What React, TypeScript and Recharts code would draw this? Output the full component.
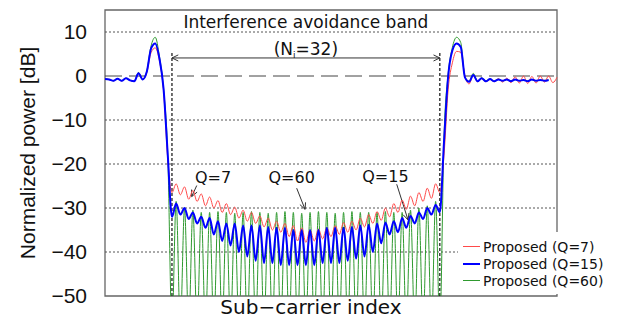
import { LineChart, Line, XAxis, YAxis, ReferenceLine, ReferenceArea, ReferenceDot, Legend } from 'recharts'

// sub-carrier index, interference avoidance band spans 0..32
const subcarrier = [
  -8, -7.5, -7, -6.5, -6, -5.5, -5, -4.5, -4, -3.5, -3, -2.5, -2, -1.5, -1, -0.5,
  0, 0.5, 1, 1.5, 2, 2.5, 3, 3.5, 4, 4.5, 5, 5.5, 6, 6.5, 7, 7.5,
  8, 8.5, 9, 9.5, 10, 10.5, 11, 11.5, 12, 12.5, 13, 13.5, 14, 14.5, 15, 15.5,
  16, 16.5, 17, 17.5, 18, 18.5, 19, 19.5, 20, 20.5, 21, 21.5, 22, 22.5, 23, 23.5,
  24, 24.5, 25, 25.5, 26, 26.5, 27, 27.5, 28, 28.5, 29, 29.5, 30, 30.5, 31, 31.5,
  32, 32.5, 33, 33.5, 34, 34.5, 35, 35.5, 36, 36.5, 37, 37.5, 38, 38.5, 39, 39.5,
  40, 40.5, 41, 41.5, 42, 42.5, 43, 43.5, 44, 44.5, 45, 45.5, 46,
]

// Proposed (Q=7)
const q7 = [
  -0.7, -0.8, -1.1, -0.6, -1.1, -0.5, -1.0, -1.2, 0.6, -0.8, 0.8, 5.3, 6.4, 3.5, -3.5, -19,
  -26.5, -24.5, -27, -25.2, -28, -26, -28.5, -26.8, -29.5, -27.5, -30, -28.3, -31, -29, -31.5, -29.8,
  -32.3, -30.5, -33, -31, -33.5, -31.8, -34.3, -32.3, -35, -33, -35.5, -33.5, -36.5, -34, -37.5, -34.5,
  -37.8, -35, -37.5, -34.8, -37, -34.5, -36.5, -34, -36, -33.3, -35.5, -33, -35, -32.3, -34.3, -31.5,
  -33.5, -30.8, -32.8, -30, -32, -29, -31, -28.2, -30.3, -27.3, -29.5, -26.5, -28.5, -25.5, -27.8, -24.5,
  -26.5, -18, -3, 3, 5.6, 5.4, 0, -1.8, 0.2, -1.3, -0.6, -1.3, -0.8, -1.3, -0.6, -1.4,
  -0.5, -1.5, -0.2, -1.6, 0, -1.7, -0.1, -1.6, 0, -1.4, 0, -1.5, -0.3,
]

// Proposed (Q=15)
const q15 = [
  -0.7, -0.8, -1.1, -0.6, -1.1, -0.5, -1.0, -1.2, 0.6, -0.8, 1.0, 6.2, 7.4, 4.0, -3, -18,
  -32, -29, -31.5, -30, -32.5, -31, -33.5, -32, -34.5, -32.3, -36, -33, -37.5, -33.5, -38.5, -33.5,
  -40, -34, -41, -34, -42, -34, -42.5, -34.3, -42.5, -34.5, -43, -34.5, -43, -35, -43, -35,
  -43, -35, -43, -35, -42.5, -34.5, -42.5, -34.5, -42.5, -34.5, -42, -34.3, -41.5, -34, -41, -33.8,
  -40, -33.5, -38, -33.3, -36, -33, -35.5, -32.3, -34.5, -31.8, -33.5, -31, -32.5, -30, -31.5, -29.3,
  -31, -15, 0, 5.8, 7.4, 6.6, -0.3, -1.3, 0.2, -1.2, -0.5, -1.2, -0.7, -1.2, -0.8, -1.1,
  -0.8, -1.2, -0.8, -1.1, -0.9, -1.2, -0.8, -1.1, -0.9, -1.1, -0.9, null, null,
]

// Proposed (Q=60), nulls fall below the -50 dB floor
const q60 = [
  -0.7, -0.8, -1.1, -0.6, -1.1, -0.5, -1.0, -1.2, 0.8, -0.8, 1.2, 6.8, 8.8, 4.5, -3, -18,
  -57, -28.5, -57, -30, -57, -30.5, -57, -31, -57, -31, -57, -30.8, -57, -31, -57, -31.2,
  -57, -31, -57, -30.8, -57, -31, -57, -31.2, -57, -31, -57, -30.8, -57, -31, -57, -31.2,
  -57, -31, -57, -30.8, -57, -31, -57, -31.2, -57, -31, -57, -30.8, -57, -31, -57, -31,
  -57, -31, -57, -30.8, -57, -31, -57, -31, -57, -30.5, -57, -30, -57, -29.5, -57, -28.5,
  -57, -14, 0.5, 6.5, 8.8, 7.6, -0.2, -1.2, 0.6, -1.2, -0.4, -1.1, -0.7, -1.2, -0.7, -1.1,
  -0.8, -1.1, -0.8, -1.1, -0.9, -1.1, -0.8, -1.1, -0.9, -1.0, -0.9, null, null,
]

const seriesNames = ['Proposed (Q=7)', 'Proposed (Q=15)', 'Proposed (Q=60)']
const yTicks = [-50, -40, -30, -20, -10, 0, 10]
const gridLevels = [10, -10, -20, -30, -40]
const bandEdges = [0, 32]

const data = subcarrier.map((x, i) => ({ x, q7: q7[i], q15: q15[i], q60: q60[i] }))

const COLORS = { q7: '#ff4a4a', q15: '#0000ff', q60: '#2f9a2f' }
const legendRows = [
  { name: seriesNames[0], color: COLORS.q7, width: 1 },
  { name: seriesNames[1], color: COLORS.q15, width: 2 },
  { name: seriesNames[2], color: COLORS.q60, width: 1 },
]

const head = (x: number, y: number, fx: number, fy: number, len: number) => {
  const a = Math.atan2(y - fy, x - fx)
  const s = 0.45
  const p1 = `${x - len * Math.cos(a - s)},${y - len * Math.sin(a - s)}`
  const p2 = `${x - len * Math.cos(a + s)},${y - len * Math.sin(a + s)}`
  return <polyline points={`${p1} ${x},${y} ${p2}`} fill="none" stroke="#333" strokeWidth={1} />
}

const arrowShape = (both: boolean) => (props: any) => {
  const { x1, y1, x2, y2 } = props
  return (
    <g>
      <line x1={x1} y1={y1} x2={x2} y2={y2} stroke="#333" strokeWidth={1} />
      {head(x2, y2, x1, y1, 7)}
      {both && head(x1, y1, x2, y2, 7)}
    </g>
  )
}

const note = (text: any, size: number) => (props: any) => (
  <text x={props.cx} y={props.cy} textAnchor="middle" fontFamily="DejaVu Sans" fontSize={size} fill="#111">
    {text}
  </text>
)

const renderLegend = () => (
  <div style={{ background: '#fff', width: 160, height: 62, paddingTop: 6, boxSizing: 'border-box' }}>
    {legendRows.map(row => (
      <div key={row.name} style={{ display: 'flex', alignItems: 'center', height: 17 }}>
        <div style={{ marginLeft: 5, width: 17, height: row.width, background: row.color }} />
        <span style={{ marginLeft: 3, fontFamily: 'DejaVu Sans', fontSize: 14, color: '#111', whiteSpace: 'nowrap' }}>
          {row.name}
        </span>
      </div>
    ))}
  </div>
)

export default function App() {
  return (
    <div style={{ position: 'absolute', left: 0, top: 0, background: '#fff' }}>
      <LineChart width={621} height={318} data={data} margin={{ top: 10, right: 64, bottom: 0, left: 0 }}>
        <XAxis
          dataKey="x"
          type="number"
          domain={[-8, 46]}
          tick={false}
          tickLine={false}
          axisLine={false}
          height={22}
          label={{ value: 'Sub−carrier index', position: 'center', dx: -20, style: { fontFamily: 'DejaVu Sans', fontSize: 20, fill: '#111' } }}
        />
        <YAxis
          type="number"
          domain={[-50, 15]}
          allowDataOverflow
          ticks={yTicks}
          width={105}
          axisLine={false}
          tickLine={false}
          tickSize={8}
          tickMargin={10}
          tickFormatter={(v: number) => (v < 0 ? `−${-v}` : `${v}`)}
          tick={{ fontFamily: 'Liberation Sans', fontSize: 21, fill: '#111' }}
          label={{ value: 'Normalized power [dB]', angle: -90, position: 'center', dx: -25, style: { fontFamily: 'Liberation Sans', fontSize: 21, fill: '#111' } }}
        />
        {gridLevels.map(v => (
          <ReferenceLine key={v} y={v} stroke="#555" strokeDasharray="2 2" strokeWidth={1} />
        ))}
        <ReferenceLine y={0} stroke="#444" strokeDasharray="17 7" strokeWidth={1} />
        {bandEdges.map(v => (
          <ReferenceLine key={`edge-${v}`} segment={[{ x: v, y: 5.2 }, { x: v, y: -50 }]} stroke="#222" strokeDasharray="3 2" strokeWidth={1.3} />
        ))}
        <ReferenceLine segment={[{ x: 0, y: 4.1 }, { x: 32, y: 4.1 }]} shape={arrowShape(true)} />
        <ReferenceLine segment={[{ x: 2.96, y: -24.9 }, { x: 2.36, y: -27.4 }]} shape={arrowShape(false)} />
        <ReferenceLine segment={[{ x: 14.9, y: -25.5 }, { x: 15.9, y: -30.3 }]} shape={arrowShape(false)} />
        <ReferenceLine segment={[{ x: 26.85, y: -24.6 }, { x: 28.2, y: -32.7 }]} shape={arrowShape(false)} />
        <ReferenceDot x={16} y={10.9} r={0} shape={note('Interference avoidance band', 17)} />
        <ReferenceDot
          x={16}
          y={4.85}
          r={0}
          shape={note(<>(N<tspan fontSize={9} dy={3}>i</tspan><tspan dy={-3}>=32)</tspan></>, 17)}
        />
        <ReferenceDot x={4.9} y={-24.4} r={0} shape={note('Q=7', 16)} />
        <ReferenceDot x={14.3} y={-24.4} r={0} shape={note('Q=60', 16)} />
        <ReferenceDot x={25.5} y={-24.1} r={0} shape={note('Q=15', 16)} />
        <Line type="monotone" dataKey="q60" name={seriesNames[2]} stroke={COLORS.q60} strokeWidth={1} dot={false} isAnimationActive={false} />
        <Line type="monotone" dataKey="q7" name={seriesNames[0]} stroke={COLORS.q7} strokeWidth={1} dot={false} isAnimationActive={false} />
        <Line type="monotone" dataKey="q15" name={seriesNames[1]} stroke={COLORS.q15} strokeWidth={2} dot={false} isAnimationActive={false} />
        <ReferenceArea x1={-8} x2={46} y1={-50} y2={15} fill="none" stroke="#666" strokeWidth={1.3} />
        <Legend layout="vertical" align="center" verticalAlign="middle" content={renderLegend} wrapperStyle={{ left: 458, top: 232, width: 160, height: 62 }} />
      </LineChart>
    </div>
  )
}
